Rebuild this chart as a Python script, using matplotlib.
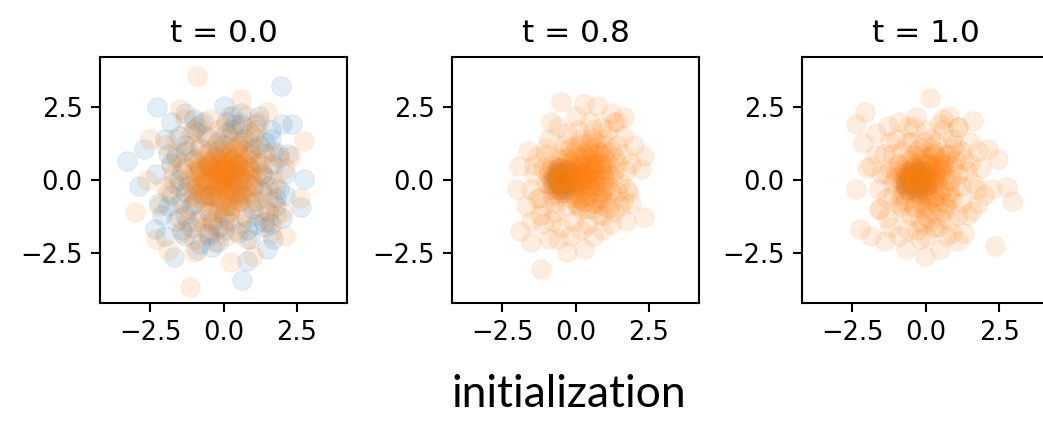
import matplotlib
matplotlib.use("Agg")
import matplotlib.pyplot as plt
import numpy as np

titles = ["t = 0.0", "t = 0.8", "t = 1.0"]
ticks = [-2.5, 0.0, 2.5]
caption = "initialization"

# panel t = 0.0
p1_blue = [
    (1.97, 3.22), (-2.26, 2.48), (2.34, 1.91), (-3.28, 0.66), (-2.72, 1.06), (-2.89, -0.19),
    (-2.32, -1.67), (-1.69, -2.64), (0.64, -3.43), (0.81, -2.75), (1.49, -2.35), (1.38, -1.44),
    (2.74, 0.03), (2.63, -0.93), (0.01, 2.53), (1.6, 1.7), (-1.9, 0.9), (2.1, -0.5), (-0.4, -2.3),
    (-1.3, -1.9), (0.3, 2.2), (-1.0, 2.1), (1.9, 0.8), (-2.2, -0.8),
    (0.2, 0.1), (-0.4, 0.3), (0.6, -0.4), (-0.7, -0.5), (0.1, -0.9), (-0.2, 1.0), (0.9, 0.4),
    (-1.0, 0.7), (0.5, 1.2), (-0.5, -1.1), (1.1, -0.7), (-1.2, -0.2), (0.0, 0.4), (0.4, -0.1),
    (-0.6, 0.0), (0.3, 0.7), (-0.3, -0.6), (1.0, 1.1), (-1.3, 1.2), (1.4, 0.1), (-0.6, 1.5),
    (0.1, 1.6), (-1.5, -0.8), (0.8, -1.3), (-0.9, -1.4), (1.5, -1.1), (-0.1, -0.2), (0.7, 0.0),
    (-0.8, 0.4), (0.2, -1.4), (-0.2, 1.3), (1.2, 0.6), (-1.1, -0.9), (1.3, -0.4), (-1.4, 0.3),
    (0.0, -1.7), (1.7, 0.5), (-1.7, -0.1), (0.9, 1.6), (-1.0, 1.7), (1.6, -1.5), (-1.6, -1.4),
    (0.5, -1.8), (-0.5, -1.9), (1.8, -0.6), (-1.8, -0.5), (0.6, 1.9), (-0.7, 2.0), (0.3, 0.3),
    (-0.3, 0.8), (0.5, -0.7), (-0.9, -0.2), (1.0, -0.2), (-0.4, -1.4), (0.7, 1.4), (-1.3, -1.2),
    (1.4, 1.3), (-1.6, 0.8), (1.8, -0.9), (-0.2, -2.1), (0.9, -2.0), (-2.0, 1.4), (2.1, 0.2),
    (-2.1, -1.2), (2.0, -1.3), (-1.3, 2.3), (1.2, 2.2), (0.1, 2.0), (1.1, 1.9), (-0.8, -2.2),
    (1.2, 1.2), (-1.3, 1.0), (1.5, -0.2), (-1.5, 0.0), (0.3, 1.7), (-0.2, -1.6), (1.1, -1.5),
    (-1.1, -1.6), (1.7, 1.0), (-1.8, 0.6), (0.8, -1.7), (-0.9, 1.8), (1.9, -0.3), (-1.9, -0.9),
    (0.4, 1.9), (-0.5, -1.8), (1.4, -1.6), (-1.5, 1.5), (1.6, 1.4), (-1.4, -1.7), (0.9, 0.9),
    (-1.0, -0.8), (1.0, -1.0), (-0.8, 1.1), (0.0, 1.2), (0.0, -1.2), (1.3, 0.2), (-1.3, -0.4),
    (2.2, 0.9), (-2.3, 0.2), (0.6, 2.3), (-0.9, -2.4), (2.0, 1.9), (-2.0, -1.9), (1.7, -2.0),
    (-1.8, 2.0), (0.5, 0.5), (-0.5, -0.5), (0.5, -0.5), (-0.5, 0.5),
]
p1_orange = [
    (-0.9, 3.56), (2.74, 1.34), (-3.0, -1.1), (-1.13, -3.66), (0.24, -2.81), (-1.01, -2.47),
    (0.58, 2.76), (-1.47, 2.42), (-2.49, 1.4), (1.49, 2.31), (2.28, 0.83), (2.6, -0.6),
    (-2.6, 0.0), (1.0, -2.6), (-2.3, -2.0), (2.1, -1.9), (-1.9, -2.4),
    (0.1, 0.2), (-0.3, 0.4), (0.5, -0.2), (-0.6, -0.3), (0.2, -0.7), (-0.1, 0.9), (0.8, 0.5),
    (-0.9, 0.6), (0.4, 1.1), (-0.4, -1.0), (1.0, -0.6), (-1.1, -0.1), (0.0, -0.3), (0.3, 0.6),
    (-0.7, 0.1), (0.6, 0.1), (-0.2, -0.5), (0.9, 1.0), (-1.2, 1.0), (1.3, 0.2), (-0.5, 1.4),
    (0.2, 1.5), (-1.4, -0.7), (0.7, -1.2), (-0.8, -1.3), (1.4, -1.0), (0.0, 0.0), (-0.2, 0.1),
    (0.3, -0.1), (0.1, 0.5), (-0.5, -0.1), (0.4, 0.3), (-0.3, -0.2), (0.6, -0.5), (-0.1, -0.8),
    (0.8, -0.1), (-0.6, 0.7), (1.1, 0.7), (-1.0, 0.3), (0.2, -1.1), (-0.3, 1.2), (0.5, 0.9),
    (-0.9, -0.6), (1.2, -0.3), (-1.3, 0.4), (0.0, 1.8), (-0.1, -1.6), (1.6, 0.6), (-1.7, 0.2),
    (1.0, 1.5), (-1.1, 1.6), (1.5, -1.4), (-1.5, -1.3), (0.4, -1.7), (-0.6, -1.8), (1.8, -0.2),
    (-1.9, -0.4), (0.7, 1.8), (-0.8, 1.9), (0.3, 0.1), (-0.4, 0.6), (0.1, -0.4), (-0.2, 0.3),
    (0.5, 0.5), (-0.7, -0.6), (0.9, -0.8), (0.2, 0.8), (-0.9, -0.2), (1.1, 0.1), (-0.5, -1.3),
    (0.6, 1.3), (-1.2, -1.0), (1.3, 1.1), (0.0, -1.3), (-1.6, 0.9), (1.7, -0.7), (-0.3, -2.1),
    (0.8, -2.0), (-2.0, 1.2), (2.1, 0.4), (-2.2, -0.9), (2.0, -1.1), (-1.3, 2.1), (1.2, 2.0),
    (0.2, 2.2), (-0.2, 0.0), (0.4, -0.4), (-0.4, 0.2), (0.2, 0.3), (0.0, 0.6), (0.7, 0.3),
    (-0.8, 0.3), (0.3, -0.9), (-0.2, -1.1), (0.1, 0.0), (-0.1, 0.4), (0.4, 0.6), (-0.5, 0.4),
    (-0.15, 0.25), (0.05, -0.05), (-0.35, 0.05), (0.25, 0.35), (-0.05, 0.55), (0.45, -0.05),
    (-0.55, 0.25), (0.15, -0.35), (-0.25, -0.35), (0.35, 0.75), (-0.45, 0.65), (0.65, 0.35),
    (-0.75, -0.15), (0.05, 0.95), (-0.05, -0.65), (0.75, -0.35), (-0.65, 0.85), (0.55, -0.75),
    (-0.85, -0.45), (0.25, -0.85), (-0.25, 0.75), (0.85, 0.15), (-0.95, 0.15), (0.15, 0.65),
    (-0.45, -0.55), (0.45, 0.55), (-0.15, -0.15), (0.35, -0.45), (-0.65, -0.75), (0.95, 0.65),
    (-0.35, 1.05), (0.65, 1.0), (-1.05, -0.55), (1.05, -0.15), (-0.05, 0.35), (0.25, 0.05),
    (-0.55, -0.05), (0.1, 0.15), (-0.2, 0.5), (0.55, 0.15), (-0.8, 0.45), (0.3, -0.3),
    (-0.4, -0.75), (0.75, 0.75), (-0.1, 1.1), (0.9, -0.55), (-0.95, 0.75), (0.2, -1.05),
    (-0.6, 0.45), (0.6, -0.15), (-0.3, 0.2), (0.15, 0.45), (-0.7, -0.35), (0.4, -0.65),
    (-0.15, -0.95), (0.85, 0.4), (-0.5, 1.0), (0.5, 1.05), (-1.0, -0.3), (1.0, 0.3),
    (-0.25, 0.0), (0.0, 0.25), (0.35, 0.25), (-0.45, 0.45), (0.1, -0.2), (-0.1, 0.7),
    (0.6, 0.6), (-0.75, 0.1), (0.2, -0.55), (-0.35, -0.5), (0.7, -0.6), (-0.6, -0.55),
    (0.3, 0.95), (-0.9, 0.35), (0.9, 0.05), (-0.2, -0.3), (0.45, 0.35), (-0.05, 0.05),
    (0.15, 0.85), (-0.55, 0.6),
    (1.3, 0.5), (-1.4, 0.6), (0.5, 1.6), (-0.4, -1.5), (1.5, -0.6), (-1.5, -0.2), (0.9, 1.3),
    (-1.0, 1.2), (1.2, -1.2), (-1.2, -1.4), (0.1, -1.9), (-0.2, 1.7), (1.7, 0.0), (-1.8, 0.5),
    (1.1, 1.7), (-1.6, 1.4), (1.8, -1.2), (-1.4, -1.8), (0.6, -1.5), (-0.9, 1.6), (1.4, 0.9),
    (-1.2, 0.0), (0.3, 1.3), (-0.7, -1.6), (1.9, 0.9), (-2.0, -0.2), (0.8, 2.2), (-0.5, 2.1),
    (1.6, -1.8), (-1.0, -2.0),
]

# panel t = 0.8
p2_blue = [
    (-0.45, 0.0), (-0.3, 0.15), (-0.6, 0.1), (-0.5, -0.2), (-0.25, -0.1), (-0.65, -0.15),
    (-0.4, 0.3), (-0.55, 0.25), (-0.35, -0.3), (-0.7, 0.05), (-0.2, 0.1), (-0.5, 0.1),
    (-0.4, -0.1), (-0.6, -0.3), (-0.3, 0.35), (-0.75, 0.2), (-0.15, -0.2), (-0.45, -0.4),
    (-0.55, 0.4), (-0.25, 0.25), (-0.8, -0.1), (-0.35, 0.05), (-0.5, -0.05), (-0.6, 0.3),
    (-0.4, 0.2), (-0.45, 0.15), (-0.35, -0.15), (-0.55, -0.1), (-0.3, 0.0), (-0.6, 0.0),
]
p2_orange = [
    (-0.51, 2.65), (0.28, 2.59), (0.74, 2.53), (1.65, 2.14), (2.33, 0.83), (2.22, 0.38),
    (2.33, -1.27), (1.70, -1.39), (-1.88, -1.73), (-1.53, -2.13), (-1.19, -3.03), (-0.28, -2.47),
    (0.28, -2.35), (-1.93, 0.49), (-1.99, -0.31), (-1.70, -0.88), (1.76, -0.31), (1.31, 1.97),
    (-0.85, 1.97), (2.0, 1.2), (-1.6, 1.0), (1.9, -0.8), (-0.9, -2.0), (1.2, 2.3), (0.0, 2.2),
    (0.1, 0.1), (-0.2, 0.3), (0.4, -0.1), (-0.5, -0.3), (0.2, -0.6), (0.0, 0.8), (0.7, 0.5),
    (-0.8, 0.5), (0.4, 1.0), (-0.3, -0.9), (0.9, -0.4), (-1.0, -0.1), (0.1, -0.2), (0.3, 0.5),
    (-0.6, 0.1), (0.6, 0.2), (-0.1, -0.5), (0.8, 0.9), (-1.0, 0.9), (1.1, 0.2), (-0.4, 1.2),
    (0.2, 1.4), (-1.2, -0.6), (0.6, -1.0), (-0.7, -1.1), (1.2, -0.8), (0.0, 0.0), (-0.3, 0.0),
    (0.3, 0.2), (0.1, 0.5), (-0.4, -0.1), (0.5, 0.4), (-0.2, -0.2), (0.5, -0.5), (0.0, -0.8),
    (0.8, 0.0), (-0.5, 0.7), (1.0, 0.7), (-0.9, 0.3), (0.2, -1.0), (-0.2, 1.1), (0.5, 0.8),
    (-0.8, -0.5), (1.1, -0.2), (-1.1, 0.4), (0.1, 1.7), (-0.1, -1.4), (1.4, 0.6), (-1.4, 0.2),
    (0.9, 1.4), (-0.9, 1.4), (1.3, -1.1), (-1.2, -1.2), (0.4, -1.5), (-0.5, -1.6), (1.5, -0.1),
    (-1.5, -0.3), (0.6, 1.7), (-0.6, 1.8), (0.3, 0.0), (-0.1, 0.6), (0.2, -0.3), (0.6, 0.6),
    (0.9, -0.6), (0.3, 0.9), (1.0, 0.4), (0.7, -0.8), (1.2, 1.0), (0.5, 1.3), (0.8, -1.2),
    (1.3, 0.3), (-0.3, 0.4), (0.4, 0.1), (0.1, 0.3), (0.7, 1.1), (1.0, 1.2), (0.3, -0.7),
    (-0.7, -0.8), (1.6, 0.9), (1.6, -0.7), (-0.2, -1.9), (0.6, -1.9), (-1.1, -1.5), (1.1, 1.7),
    (-1.3, 0.8), (0.9, 0.2), (0.5, -0.2), (1.4, -0.4), (0.2, 0.7), (0.0, 1.2),
    (0.25, 0.15), (0.05, 0.35), (0.45, 0.25), (-0.15, 0.05), (0.35, -0.25), (0.15, 0.6),
    (0.65, 0.0), (-0.25, -0.35), (0.55, 0.7), (-0.35, 0.55), (0.85, 0.35), (0.05, -0.45),
    (0.75, -0.45), (-0.45, 0.25), (0.25, -0.75), (0.95, 0.85), (-0.05, 0.95), (0.45, 1.1),
    (-0.55, -0.55), (1.05, -0.25), (0.15, -0.05), (0.35, 0.45), (-0.1, 0.2), (0.6, 0.35),
    (0.2, -0.4), (0.8, 0.6), (-0.3, 0.75), (0.5, -0.35), (0.0, -0.15), (0.7, 0.2),
    (-0.2, -0.6), (1.0, 0.0), (0.35, 0.8), (-0.5, 0.4), (0.9, -0.5), (0.1, 1.05),
    (0.6, -0.8), (1.15, 0.55), (-0.4, -0.45), (0.25, 0.25), (0.55, 0.05), (-0.05, 0.45),
    (0.4, -0.55), (0.75, 0.95), (-0.15, -0.25), (1.2, -0.4), (0.3, 1.25), (-0.6, 0.8),
    (0.95, 0.15), (0.0, -0.6), (0.45, 0.6), (0.15, 0.05), (0.65, -0.2), (-0.25, 0.35),
    (0.85, -0.85), (1.3, 0.8), (0.4, -1.0), (-0.35, 1.0), (0.7, 1.3), (1.1, -0.95),
    (0.2, 0.5), (0.5, 0.3), (0.05, 0.15), (0.3, -0.1), (0.9, 0.5), (0.6, 0.9),
    (-0.2, 0.6), (0.8, -0.2), (0.1, -0.9), (1.0, 1.0), (0.35, 0.0), (0.65, 0.5),
    (-0.1, -0.1), (0.45, -0.15), (0.15, 0.75), (0.75, -0.65), (1.25, 0.15), (-0.45, -0.2),
    (0.55, 1.45), (0.95, -1.2),
    (1.4, 1.2), (1.5, -0.9), (-1.0, 1.1), (-1.1, -0.9), (1.7, 0.3), (0.9, 1.8), (-0.3, 1.6),
    (0.2, -1.7), (-0.8, -1.4), (1.8, -0.4), (1.2, -1.5), (-1.4, 0.5), (0.5, 2.0), (-1.3, -0.6),
    (1.6, 1.5), (1.9, 0.6), (-0.6, -2.0), (0.9, -1.7), (-1.5, -1.4), (1.4, 2.0),
    (-0.45, 0.05), (-0.6, -0.05), (-0.7, 0.15), (-0.55, 0.2), (-0.75, -0.2), (-0.5, -0.15),
    (-0.65, 0.3), (-0.85, 0.05), (-0.4, -0.25), (-0.7, -0.35), (-0.9, -0.15), (-0.55, 0.45),
    (-0.8, 0.35), (-0.35, 0.15), (-0.6, -0.45), (-0.95, 0.2), (-0.5, 0.0), (-0.65, 0.1),
    (-0.75, 0.0), (-0.4, 0.35), (-0.85, -0.3), (-0.55, -0.3), (-0.3, -0.1), (-0.7, 0.45),
]

# panel t = 1.0
p3_blue = [
    (-0.3, 0.0), (-0.15, 0.15), (-0.45, 0.1), (-0.35, -0.2), (-0.1, -0.1), (-0.5, -0.15),
    (-0.25, 0.3), (-0.4, 0.25), (-0.2, -0.3), (-0.55, 0.05), (-0.05, 0.1), (-0.35, 0.1),
    (-0.25, -0.1), (-0.45, -0.3), (-0.15, 0.35), (-0.6, 0.2), (0.0, -0.2), (-0.3, -0.4),
    (-0.4, 0.4), (-0.1, 0.25), (-0.7, -0.15), (-0.2, 0.05), (-0.35, -0.05), (-0.7, -0.2),
    (-0.25, 0.2), (-0.65, -0.1), (-0.3, 0.15), (-0.5, 0.0), (-0.2, -0.15), (-0.4, -0.1),
]
p3_orange = [
    (0.15, 2.82), (-2.07, 2.31), (-2.35, 1.91), (-2.13, 1.28), (-1.27, 1.85), (-0.31, 2.14),
    (1.63, 2.02), (1.11, 1.80), (2.14, 1.06), (2.48, 0.72), (2.76, -0.25), (2.93, -0.70),
    (2.25, -0.31), (-2.35, -0.31), (-1.84, 0.49), (-2.22, -1.67), (-1.84, -1.90), (-1.39, -2.07),
    (-0.65, -2.35), (-0.02, -2.58), (0.49, -2.35), (1.11, -2.07), (2.36, -2.24), (-1.56, -0.99),
    (1.57, -1.05), (-0.9, 2.0), (0.6, 2.1), (-1.7, 1.6), (1.9, 0.4),
    (0.0, 0.1), (-0.3, 0.3), (0.3, -0.1), (-0.6, -0.3), (0.2, -0.6), (-0.1, 0.8), (0.6, 0.5),
    (-0.9, 0.5), (0.3, 1.0), (-0.4, -0.9), (0.8, -0.4), (-1.1, -0.1), (0.0, -0.2), (0.3, 0.5),
    (-0.7, 0.1), (0.5, 0.2), (-0.2, -0.5), (0.8, 0.9), (-1.1, 0.9), (1.1, 0.2), (-0.5, 1.3),
    (0.2, 1.4), (-1.3, -0.6), (0.6, -1.1), (-0.8, -1.1), (1.2, -0.8), (0.0, 0.0), (-0.3, 0.0),
    (0.3, 0.2), (0.1, 0.5), (-0.4, -0.1), (0.5, 0.4), (-0.2, -0.2), (0.5, -0.5), (0.0, -0.9),
    (0.8, 0.0), (-0.5, 0.7), (1.0, 0.7), (-1.0, 0.3), (0.2, -1.1), (-0.2, 1.1), (0.5, 0.8),
    (-0.8, -0.5), (1.2, -0.2), (-1.2, 0.4), (0.0, 1.7), (-0.1, -1.5), (1.5, 0.6), (-1.5, 0.2),
    (0.9, 1.4), (-1.0, 1.4), (1.4, -1.2), (-1.3, -1.3), (0.4, -1.6), (-0.6, -1.7), (1.6, -0.1),
    (-1.6, -0.3), (0.6, 1.7), (-0.6, 1.8), (0.2, 0.0), (-0.1, 0.6), (0.1, -0.3), (0.6, 0.6),
    (0.9, -0.6), (0.3, 0.9), (-0.9, -0.8), (0.7, -0.8), (1.2, 1.0), (-0.8, 1.0), (0.8, -1.4),
    (1.4, 0.3), (-0.3, 0.4), (0.4, 0.1), (0.1, 0.3), (-0.2, -0.7), (1.0, 1.2), (0.3, -0.7),
    (1.8, 1.0), (1.8, -0.8), (-0.2, -2.0), (0.7, -1.9), (-1.2, -1.6), (1.1, 1.8), (-1.4, 0.9),
    (-0.15, 0.05), (0.05, 0.25), (-0.35, 0.25), (0.25, -0.05), (-0.05, -0.35), (0.15, 0.55),
    (-0.55, 0.05), (0.35, 0.35), (-0.25, -0.55), (0.45, -0.35), (-0.45, 0.55), (0.05, -0.75),
    (0.65, 0.15), (-0.65, -0.35), (0.25, 0.85), (-0.15, 0.85), (0.55, -0.75), (-0.75, 0.35),
    (0.75, 0.55), (-0.35, -0.95), (0.0, 0.05), (-0.2, 0.4), (0.3, 0.15), (-0.4, -0.25),
    (0.1, -0.5), (0.45, 0.6), (-0.6, 0.65), (0.6, -0.3), (-0.1, -1.0), (0.2, 1.1),
    (-0.85, -0.1), (0.85, 0.05), (-0.3, 1.0), (0.4, -0.9), (-0.7, -0.7), (0.7, 0.85),
    (0.05, -1.25), (-0.5, -1.2), (0.5, -1.3), (-0.05, 1.3), (-0.25, 0.15), (0.15, -0.15),
    (-0.1, 0.3), (0.35, 0.0), (-0.45, -0.05), (0.2, 0.35), (0.0, -0.4), (-0.3, -0.3),
    (0.55, 0.35), (-0.55, 0.3), (0.3, -0.55), (-0.2, 0.7), (0.1, 0.75), (-0.75, -0.45),
    (0.8, -0.55), (0.95, 0.45), (-0.95, 0.6), (0.3, -1.6), (-0.3, -1.7), (0.0, -1.9),
    (-0.05, -0.1), (0.1, 0.1), (0.25, 0.4), (-0.35, 0.5), (0.4, -0.15), (-0.15, -0.8),
    (0.6, 0.7), (-0.65, 0.0), (0.05, 0.6), (-0.4, 0.85), (0.7, -0.95), (-0.85, -0.9),
    (1.0, -0.2), (-1.0, 0.1), (0.35, 1.25), (-0.6, 1.3), (0.9, 1.1), (-1.1, -0.5),
    (0.15, -1.4), (-0.2, -1.4),
    (1.3, 0.7), (-1.3, 0.2), (1.1, -1.2), (-1.2, 1.3), (1.7, -0.3), (-1.7, 0.9), (0.5, 1.9),
    (-0.4, 1.8), (1.5, 1.3), (-1.6, -1.0), (0.9, -1.8), (-0.9, -1.9), (2.0, -0.5), (-2.0, 0.4),
    (1.3, -1.8), (0.8, 2.2),
    (-0.35, 0.05), (-0.5, -0.05), (-0.6, 0.15), (-0.45, 0.2), (-0.65, -0.2), (-0.4, -0.15),
    (-0.55, 0.3), (-0.75, 0.05), (-0.3, -0.25), (-0.6, -0.35), (-0.8, -0.15), (-0.45, 0.4),
    (-0.7, 0.3), (-0.25, 0.1), (-0.5, -0.4), (-0.85, 0.2), (-0.4, 0.0), (-0.55, 0.1),
]

panels = [(p1_blue, p1_orange), (p2_blue, p2_orange), (p3_blue, p3_orange)]

plt.rcParams['font.family'] = ['DejaVu Sans']
fig = plt.figure(figsize=(10.43, 4.36), dpi=100)

lefts = [0.0959, 0.4334, 0.769]
for i, (blue, orange) in enumerate(panels):
    ax = fig.add_axes([lefts[i], 0.305, 0.2368, 0.564])
    bx, by = np.array(blue).T
    ox, oy = np.array(orange).T
    ax.scatter(bx, by, s=200, color='#1f77b4', alpha=0.13, linewidths=0.5)
    ax.scatter(ox, oy, s=200, color='#ff7f0e', alpha=0.13, linewidths=0.5)
    ax.set_xlim(-4.2, 4.2)
    ax.set_ylim(-4.2, 4.2)
    ax.set_xticks(ticks)
    ax.set_yticks(ticks)
    ax.tick_params(labelsize=18.5, length=6.5, width=1.5, pad=6)
    for sp in ax.spines.values():
        sp.set_linewidth(1.5)
    ax.set_title(titles[i], fontsize=22.5, pad=11)

fig.text(0.545, 0.095, caption, ha='center', va='center', fontsize=32, family='Lato')

fig.savefig("out.png", dpi=100)
